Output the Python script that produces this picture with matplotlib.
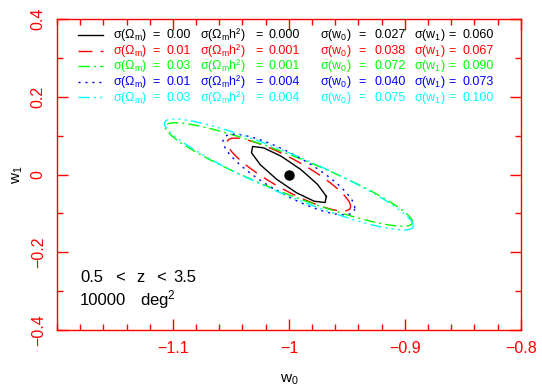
import numpy as np
import matplotlib
matplotlib.use("Agg")
import matplotlib.pyplot as plt

plt.rcParams['font.family'] = ['Liberation Sans', 'DejaVu Sans']
plt.rcParams['mathtext.fontset'] = 'custom'
plt.rcParams['mathtext.rm'] = 'Liberation Sans'
plt.rcParams['mathtext.it'] = 'Liberation Sans'
plt.rcParams['mathtext.bf'] = 'Liberation Sans:bold'
plt.rcParams['axes.unicode_minus'] = True

# ---- data ----
w0_fid = -1.0
w1_fid = 0.0
colors = ['black', '#ff0000', '#00ff00', '#0000ff', '#00ffff']
sig_om = ['0.00', '0.01', '0.03', '0.01', '0.03']
sig_omh2 = ['0.000', '0.001', '0.001', '0.004', '0.004']
sig_w0 = [0.027, 0.038, 0.072, 0.040, 0.075]
sig_w1 = [0.060, 0.067, 0.090, 0.073, 0.100]
rho = [-0.88, -0.875, -0.92, -0.83, -0.92]
contour_scale = [1.22, 1.40, 1.48, 1.42, 1.43]
dashes = [None, (10, 6), (8, 3, 1.5, 3), (1.5, 3.5), (8, 3, 1.5, 3, 1.5, 3, 1.5, 3)]
xticks = [-1.1, -1.0, -0.9, -0.8]
yticks = [-0.4, -0.2, 0.0, 0.2, 0.4]

fig = plt.figure(figsize=(5.42, 3.90), dpi=100)
ax = fig.add_axes([0.105, 0.154, 0.856, 0.797])
ax.set_xlim(-1.2, -0.8)
ax.set_ylim(-0.4, 0.4)

for i in range(5):
    n = 13 if i == 0 else 361
    tt = np.linspace(0, 2 * np.pi, n) + (0.2 if i == 0 else 0.0)
    k = contour_scale[i]
    x = w0_fid + k * sig_w0[i] * np.cos(tt)
    y = w1_fid + k * sig_w1[i] * (rho[i] * np.cos(tt) + np.sqrt(1 - rho[i] ** 2) * np.sin(tt))
    ln, = ax.plot(x, y, color=colors[i], lw=1.0)
    if dashes[i] is not None:
        ln.set_dashes(dashes[i])

ax.plot([w0_fid], [w1_fid], 'o', color='black', ms=6.5)

# legend rows
line_y = [0.949, 0.899, 0.849, 0.799, 0.749]
base_y = [0.938, 0.888, 0.838, 0.788, 0.738]
lab_x = [0.120, 0.308, 0.567, 0.769]
eq_x = [0.213, 0.435, 0.658, 0.852]
val_x = [0.237, 0.457, 0.685, 0.875]
for i in range(5):
    ln, = ax.plot([0.045, 0.099], [line_y[i]] * 2, color=colors[i], lw=1.0,
                  transform=ax.transAxes)
    if dashes[i] is not None:
        ln.set_dashes(dashes[i])
    kw = dict(transform=ax.transAxes, color=colors[i], va='baseline', fontsize=9)
    labels = [r'$\sigma(\Omega_{m})$', r'$\sigma$($\Omega_{m}$h²)',
              r'$\sigma(w_{0})$', r'$\sigma(w_{1})$']
    vals = [sig_om[i], sig_omh2[i], f'{sig_w0[i]:.3f}', f'{sig_w1[i]:.3f}']
    for j in range(4):
        ax.text(lab_x[j], base_y[i], labels[j], ha='left', **kw)
        ax.text(eq_x[j], base_y[i], '=', ha='center', **kw)
        ax.text(val_x[j], base_y[i], vals[j], ha='left', **kw)

akw = dict(transform=ax.transAxes, fontsize=12, va='baseline', color='black')
ax.text(0.0496, 0.154, '0.5', ha='left', **akw)
ax.text(0.136, 0.154, '<', ha='center', **akw)
ax.text(0.181, 0.154, 'z', ha='center', **akw)
ax.text(0.224, 0.154, '<', ha='center', **akw)
ax.text(0.250, 0.154, '3.5', ha='left', **akw)
ax.text(0.0496, 0.080, '10000', ha='left', **akw)
ax.text(0.179, 0.080, r'deg$^{2}$', ha='left', **akw)

ax.set_xticks(xticks)
ax.set_xticklabels(['\u22121.1', '\u22121', '\u22120.9', '\u22120.8'])
ax.set_yticks(yticks)
ax.set_yticklabels(['\u22120.4', '\u22120.2', '0', '0.2', '0.4'], rotation=90, va='center')
ax.set_xticks(np.arange(-1.2, -0.8001, 0.02), minor=True)
ax.set_yticks(np.arange(-0.4, 0.4001, 0.1), minor=True)
ax.tick_params(which='both', direction='in', top=True, right=True, colors='#ff0000',
               labelsize=11.5, labelcolor='#ff0000')
ax.tick_params(which='major', length=8, width=1)
ax.tick_params(which='minor', length=4.5, width=1)
ax.tick_params(axis='x', pad=8)
ax.tick_params(axis='y', pad=8)
for s in ax.spines.values():
    s.set_color('#ff0000')
    s.set_linewidth(1)

ax.set_xlabel(r'$w_{0}$', fontsize=11, color='black', labelpad=12)
ax.set_ylabel(r'$w_{1}$', fontsize=11, color='black', labelpad=4)

fig.savefig('out.png', dpi=100)
